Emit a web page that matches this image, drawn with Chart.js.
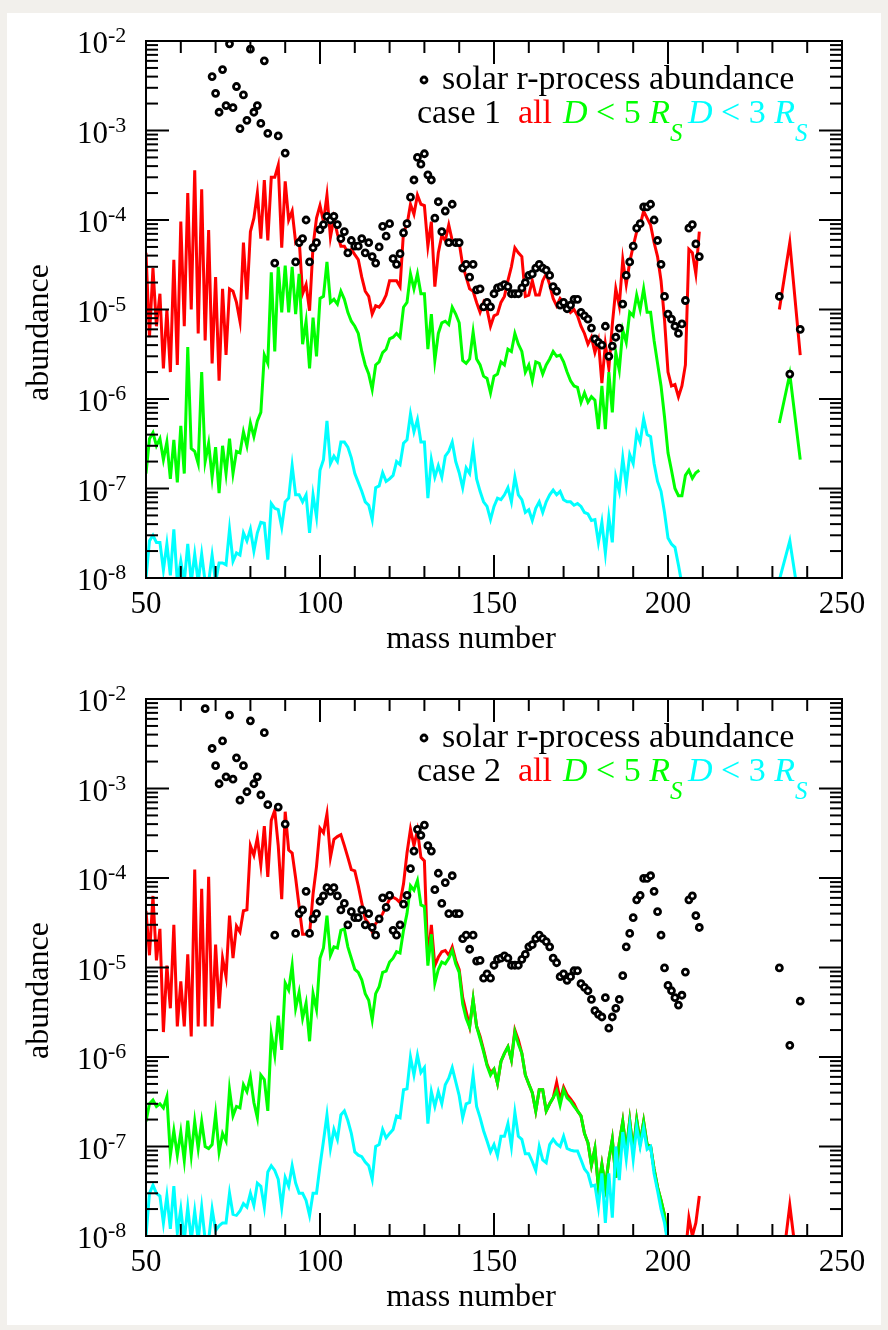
<!DOCTYPE html>
<html>
<head>
<meta charset="utf-8">
<script src="https://cdn.jsdelivr.net/npm/chart.js@4.4.1/dist/chart.umd.min.js"></script>
<style>
  body { margin: 0; width: 888px; height: 1330px; background: #f2f0ec; position: relative; overflow: hidden; }
  #card { position: absolute; left: 7px; top: 13px; width: 874px; height: 1312px; background: #ffffff; }
  .panel { position: absolute; left: 0; width: 888px; height: 658px; }
</style>
</head>
<body>
<div id="card"></div>
<div class="panel" style="top:0px"><canvas id="case1" width="888" height="658"></canvas></div>
<div class="panel" style="top:658px"><canvas id="case2" width="888" height="658"></canvas></div>
<script>
// mass numbers of the computed yields
const massNumbers = [
  50, 51, 52, 53, 54, 55, 56, 57, 58, 59,
  60, 61, 62, 63, 64, 65, 66, 67, 68, 69,
  70, 71, 72, 73, 74, 75, 76, 77, 78, 79,
  80, 81, 82, 83, 84, 85, 86, 87, 88, 89,
  90, 91, 92, 93, 94, 95, 96, 97, 98, 99,
  100, 101, 102, 103, 104, 105, 106, 107, 108, 109,
  110, 111, 112, 113, 114, 115, 116, 117, 118, 119,
  120, 121, 122, 123, 124, 125, 126, 127, 128, 129,
  130, 131, 132, 133, 134, 135, 136, 137, 138, 139,
  140, 141, 142, 143, 144, 145, 146, 147, 148, 149,
  150, 151, 152, 153, 154, 155, 156, 157, 158, 159,
  160, 161, 162, 163, 164, 165, 166, 167, 168, 169,
  170, 171, 172, 173, 174, 175, 176, 177, 178, 179,
  180, 181, 182, 183, 184, 185, 186, 187, 188, 189,
  190, 191, 192, 193, 194, 195, 196, 197, 198, 199,
  200, 201, 202, 203, 204, 205, 206, 207, 208, 209
];
const actinideMass = [232, 235, 238];

// solar r-process points
const solarMass = [
  67, 69, 70, 71, 72, 73, 74, 75, 76, 77, 78, 79, 80, 81, 82, 83, 84, 85,
  87, 88, 90, 93, 94, 95, 96, 97, 98, 99,
  100, 101, 102, 103, 104, 105, 106, 107, 108, 109,
  110, 111, 112, 113, 114, 115, 116, 117, 118, 119,
  120, 121, 122, 123, 124, 125, 126, 127, 128, 129,
  130, 131, 132, 133, 134, 135, 136, 137, 138, 139,
  140, 141, 142, 143, 144, 145, 146, 147, 148, 149,
  150, 151, 152, 153, 154, 155, 156, 157, 158, 159,
  160, 161, 162, 163, 164, 165, 166, 167, 168, 169,
  170, 171, 172, 173, 174, 175, 176, 177, 178, 179,
  180, 181, 182, 183, 184, 185, 186, 187, 188, 189,
  190, 191, 192, 193, 194, 195, 196, 197, 198, 199,
  200, 201, 202, 203, 204, 205, 206, 207, 208, 209,
  232, 235, 238
];
const solarCase1 = [
  1.2e-2, 4.0e-3, 2.6e-3, 1.6e-3, 4.8e-3, 1.9e-3, 9.3e-3, 1.8e-3, 3.1e-3, 1.05e-3, 2.5e-3, 1.3e-3, 8.1e-3, 1.6e-3, 1.9e-3, 1.2e-3, 6.0e-3, 9.3e-4,
  3.3e-5, 8.7e-4, 5.6e-4, 3.4e-5, 5.6e-5, 6.2e-5, 1.0e-4, 3.4e-5, 4.9e-5, 5.6e-5,
  7.8e-5, 8.9e-5, 1.1e-4, 1.0e-4, 1.1e-4, 8.9e-5, 6.2e-5, 7.4e-5, 4.3e-5, 5.9e-5,
  5.1e-5, 5.1e-5, 6.2e-5, 4.3e-5, 5.6e-5, 3.9e-5, 3.3e-5, 5.0e-5, 8.5e-5, 6.6e-5,
  9.1e-5, 3.7e-5, 3.2e-5, 4.2e-5, 7.2e-5, 9.1e-5, 1.8e-4, 2.8e-4, 5.0e-4, 4.2e-4,
  5.5e-4, 3.2e-4, 2.8e-4, 1.05e-4, 1.6e-4, 7.4e-5, 1.26e-4, 5.6e-5, 1.5e-4, 5.6e-5,
  5.6e-5, 2.9e-5, 3.2e-5, 2.3e-5, 3.2e-5, 1.66e-5, 1.7e-5, 1.07e-5, 1.2e-5, 1.07e-5,
  1.5e-5, 1.74e-5, 1.8e-5, 1.9e-5, 1.8e-5, 1.5e-5, 1.5e-5, 1.5e-5, 1.74e-5, 2.0e-5,
  2.4e-5, 2.5e-5, 2.9e-5, 3.2e-5, 2.9e-5, 2.75e-5, 2.4e-5, 1.8e-5, 1.6e-5, 1.12e-5,
  1.2e-5, 1.02e-5, 1.12e-5, 1.3e-5, 1.3e-5, 9.3e-6, 8.5e-6, 7.8e-6, 6.2e-6, 4.7e-6,
  4.3e-6, 4.0e-6, 6.5e-6, 3.0e-6, 3.9e-6, 4.9e-6, 6.2e-6, 1.15e-5, 2.4e-5, 3.4e-5,
  5.1e-5, 8.1e-5, 9.1e-5, 1.4e-4, 1.4e-4, 1.5e-4, 1.0e-4, 5.9e-5, 3.2e-5, 1.4e-5,
  8.9e-6, 7.8e-6, 6.5e-6, 5.4e-6, 6.9e-6, 1.26e-5, 8.1e-5, 8.9e-5, 5.4e-5, 3.9e-5,
  1.4e-5, 1.9e-6, 6.0e-6
];
const solarCase2 = [
  7.8e-3, 2.8e-3, 1.8e-3, 1.13e-3, 3.4e-3, 1.35e-3, 6.6e-3, 1.27e-3, 2.2e-3, 7.4e-4, 1.8e-3, 9.2e-4, 5.7e-3, 1.13e-3, 1.35e-3, 8.5e-4, 4.2e-3, 6.6e-4,
  2.3e-5, 6.2e-4, 4.0e-4, 2.4e-5, 4.0e-5, 4.4e-5, 7.1e-5, 2.4e-5, 3.5e-5, 4.0e-5,
  5.5e-5, 6.3e-5, 7.8e-5, 7.1e-5, 7.8e-5, 6.3e-5, 4.4e-5, 5.2e-5, 3.0e-5, 4.2e-5,
  3.6e-5, 3.6e-5, 4.4e-5, 3.0e-5, 4.0e-5, 2.8e-5, 2.3e-5, 3.5e-5, 6.0e-5, 4.7e-5,
  6.4e-5, 2.6e-5, 2.3e-5, 3.0e-5, 5.1e-5, 6.4e-5, 1.27e-4, 2.0e-4, 3.5e-4, 3.0e-4,
  3.9e-4, 2.3e-4, 2.0e-4, 7.4e-5, 1.13e-4, 5.2e-5, 8.9e-5, 4.0e-5, 1.06e-4, 4.0e-5,
  4.0e-5, 2.1e-5, 2.3e-5, 1.6e-5, 2.3e-5, 1.18e-5, 1.2e-5, 7.6e-6, 8.5e-6, 7.6e-6,
  1.06e-5, 1.23e-5, 1.27e-5, 1.35e-5, 1.27e-5, 1.06e-5, 1.06e-5, 1.06e-5, 1.23e-5, 1.4e-5,
  1.7e-5, 1.8e-5, 2.1e-5, 2.3e-5, 2.1e-5, 1.95e-5, 1.7e-5, 1.27e-5, 1.13e-5, 7.9e-6,
  8.5e-6, 7.2e-6, 7.9e-6, 9.2e-6, 9.2e-6, 6.6e-6, 6.0e-6, 5.5e-6, 4.4e-6, 3.3e-6,
  3.0e-6, 2.8e-6, 4.6e-6, 2.1e-6, 2.8e-6, 3.5e-6, 4.4e-6, 8.1e-6, 1.7e-5, 2.4e-5,
  3.6e-5, 5.7e-5, 6.4e-5, 9.9e-5, 9.9e-5, 1.06e-4, 7.1e-5, 4.2e-5, 2.3e-5, 9.9e-6,
  6.3e-6, 5.5e-6, 4.6e-6, 3.8e-6, 4.9e-6, 8.9e-6, 5.7e-5, 6.3e-5, 3.8e-5, 2.8e-5,
  9.9e-6, 1.35e-6, 4.2e-6
];

// case 1
const allCase1 = [
  4.3e-5, 4.9e-6, 2.9e-5, 6.5e-6, 1.5e-5, 2.2e-6, 1.0e-5, 2.0e-6, 3.6e-5, 2.4e-6,
  9.6e-5, 6.5e-6, 2.0e-4, 1.0e-5, 3.6e-4, 5.4e-6, 2.2e-4, 4.5e-6, 7.7e-5, 2.5e-6,
  2.3e-5, 1.6e-6, 1.7e-5, 3.1e-6, 1.7e-5, 1.6e-5, 1.2e-5, 7.4e-6, 5.6e-5, 1.3e-5,
  7.4e-5, 1.05e-4, 2.0e-4, 6.2e-5, 2.8e-4, 5.9e-5, 3.0e-4, 3.0e-4, 4.1e-4, 4.9e-5,
  2.7e-4, 1.0e-4, 1.26e-4, 5.6e-5, 6.2e-5, 1.5e-5, 1.9e-5, 9.7e-6, 5.1e-5, 1.05e-4,
  1.45e-4, 9.6e-5, 1.9e-4, 6.4e-5, 1.05e-4, 7.0e-5, 5.1e-5, 5.1e-5, 4.3e-5, 4.7e-5,
  4.1e-5, 3.6e-5, 2.3e-5, 1.6e-5, 1.4e-5, 8.9e-6, 1.1e-5, 1.06e-5, 1.2e-5, 1.45e-5,
  2.1e-5, 2.1e-5, 2.1e-5, 1.8e-5, 7.4e-5, 8.8e-5, 1.5e-4, 1.16e-4, 1.9e-4, 1.5e-4,
  1.45e-4, 5.1e-5, 9.6e-5, 1.8e-5, 4.3e-5, 6.7e-5, 5.9e-5, 8.8e-5, 5.9e-5, 5.6e-5,
  5.6e-5, 3.1e-5, 2.3e-5, 1.7e-5, 1.6e-5, 1.2e-5, 9.3e-6, 1.2e-5, 1.0e-5, 6.5e-6,
  8.5e-6, 8.9e-6, 1.2e-5, 1.4e-5, 2.1e-5, 3.0e-5, 4.9e-5, 4.3e-5, 3.9e-5, 1.4e-5,
  1.45e-5, 2.1e-5, 1.45e-5, 1.45e-5, 2.1e-5, 2.5e-5, 1.9e-5, 1.33e-5, 1.1e-5, 1.33e-5,
  1.2e-5, 1.1e-5, 9.3e-6, 1.0e-5, 8.5e-6, 6.5e-6, 5.4e-6, 4.1e-6, 4.9e-6, 3.3e-6,
  4.5e-6, 1.5e-6, 4.1e-6, 2.2e-6, 6.8e-6, 1.7e-5, 1.1e-5, 3.6e-5, 1.9e-5, 3.4e-5,
  5.1e-5, 7.4e-5, 8.8e-5, 1.26e-4, 1.05e-4, 8.8e-5, 5.6e-5, 3.9e-5, 2.1e-5, 7.7e-6,
  2.0e-6, 1.4e-6, 1.45e-6, 1.06e-6, 1.4e-6, 2.4e-6, 4.7e-5, 4.3e-5, 2.5e-5, 7.4e-5
];
const allCase1Act = [1.0e-5, 5.6e-5, 3.1e-6];
const d5Case1 = [
  1.47e-7, 3.6e-7, 4.2e-7, 3.0e-7, 3.6e-7, 2.1e-7, 3.3e-7, 1.28e-7, 3.5e-7, 1.17e-7,
  5.0e-7, 1.47e-7, 3.8e-6, 2.8e-7, 2.6e-7, 1.9e-7, 2.0e-6, 2.0e-7, 3.2e-7, 1.34e-7,
  2.9e-7, 8.9e-8, 3.0e-7, 1.47e-7, 3.6e-7, 1.47e-7, 2.6e-7, 2.5e-7, 4.3e-7, 3.0e-7,
  5.4e-7, 3.8e-7, 5.7e-7, 7.1e-7, 3.1e-6, 2.5e-6, 2.6e-5, 3.4e-6, 3.0e-5, 9.3e-6,
  3.1e-5, 9.3e-6, 3.0e-5, 8.9e-6, 2.5e-5, 4.1e-6, 7.4e-6, 2.2e-6, 8.1e-6, 3.0e-6,
  1.33e-5, 1.4e-5, 3.4e-5, 1.2e-5, 1.3e-5, 1.15e-5, 1.6e-5, 1.3e-5, 9.3e-6, 7.4e-6,
  6.5e-6, 5.4e-6, 3.4e-6, 2.4e-6, 1.9e-6, 1.28e-6, 2.4e-6, 2.6e-6, 3.3e-6, 3.6e-6,
  4.7e-6, 4.9e-6, 5.4e-6, 4.9e-6, 1.06e-5, 1.2e-5, 2.5e-5, 1.7e-5, 2.5e-5, 1.5e-5,
  1.5e-5, 3.6e-6, 8.9e-6, 2.7e-6, 5.4e-6, 7.1e-6, 7.4e-6, 6.8e-6, 1.06e-5, 8.9e-6,
  7.1e-6, 2.7e-6, 2.5e-6, 2.8e-6, 5.6e-6, 2.8e-6, 2.4e-6, 1.8e-6, 1.7e-6, 1.17e-6,
  1.8e-6, 1.9e-6, 2.6e-6, 2.4e-6, 3.6e-6, 3.4e-6, 5.4e-6, 4.1e-6, 3.4e-6, 2.0e-6,
  2.4e-6, 1.6e-6, 2.6e-6, 2.5e-6, 1.9e-6, 2.4e-6, 2.8e-6, 3.4e-6, 3.0e-6, 3.1e-6,
  2.6e-6, 2.0e-6, 1.6e-6, 1.4e-6, 1.35e-6, 9.2e-7, 1.17e-6, 9.2e-7, 1.06e-6, 9.7e-7,
  4.6e-7, 1.4e-6, 4.6e-7, 2.0e-6, 7.1e-7, 3.3e-6, 2.1e-6, 5.9e-6, 4.3e-6, 9.3e-6,
  8.5e-6, 1.45e-5, 1.0e-5, 1.7e-5, 9.3e-6, 9.3e-6, 4.5e-6, 2.5e-6, 1.4e-6, 6.3e-7,
  2.5e-7, 1.6e-7, 1.0e-7, 8.3e-8, 8.3e-8, 1.4e-7, 1.6e-7, 1.3e-7, 1.5e-7, 1.6e-7
];
const d5Case1Act = [5.4e-7, 1.9e-6, 2.1e-7];
const d3Case1 = [
  1.0e-8, 2.6e-8, 3.0e-8, 2.5e-8, 2.5e-8, 1.23e-8, 2.4e-8, 1.07e-8, 3.5e-8, 9e-9,
  1.54e-8, 9e-9, 2.4e-8, 9e-9, 1.85e-8, 9e-9, 1.85e-8, 9e-9, 9e-9, 1.8e-8,
  9e-9, 1.47e-8, 1.47e-8, 1.4e-8, 3.5e-8, 1.54e-8, 1.9e-8, 1.8e-8, 3.2e-8, 2.6e-8,
  3.5e-8, 2.0e-8, 3.2e-8, 4.2e-8, 4.1e-8, 1.6e-8, 6.8e-8, 6.0e-8, 5.8e-8, 3.7e-8,
  7.1e-8, 7.8e-8, 1.8e-7, 8.5e-8, 8.5e-8, 7.1e-8, 8.5e-8, 3.2e-8, 8.5e-8, 4.8e-8,
  1.6e-7, 2.1e-7, 5.7e-7, 1.9e-7, 2.3e-7, 2.0e-7, 3.3e-7, 3.3e-7, 2.9e-7, 2.2e-7,
  1.47e-7, 1.17e-7, 9.3e-8, 7.1e-8, 6.5e-8, 4.5e-8, 1.02e-7, 1.07e-7, 1.5e-7, 1.2e-7,
  1.28e-7, 1.4e-7, 2.0e-7, 1.85e-7, 3.2e-7, 3.5e-7, 6.8e-7, 4.3e-7, 5.9e-7, 3.3e-7,
  3.3e-7, 7.8e-8, 2.1e-7, 1.34e-7, 1.8e-7, 1.34e-7, 2.3e-7, 2.6e-7, 3.3e-7, 2.0e-7,
  1.5e-7, 1.02e-7, 1.7e-7, 1.47e-7, 2.8e-7, 1.28e-7, 9.3e-8, 7.1e-8, 6.3e-8, 4.5e-8,
  6.3e-8, 7.8e-8, 7.5e-8, 8.5e-8, 1.02e-7, 7.1e-8, 1.34e-7, 8.5e-8, 7.5e-8, 5.4e-8,
  5.8e-8, 4.4e-8, 6.0e-8, 7.1e-8, 5.4e-8, 7.1e-8, 8.5e-8, 9.6e-8, 8.5e-8, 9.3e-8,
  7.5e-8, 7.1e-8, 7.1e-8, 6.5e-8, 6.8e-8, 6.3e-8, 5.4e-8, 5.2e-8, 4.4e-8, 4.5e-8,
  2.5e-8, 4.2e-8, 1.9e-8, 4.8e-8, 2.5e-8, 1.34e-7, 9.3e-8, 2.2e-7, 1.1e-7, 2.4e-7,
  1.9e-7, 4.2e-7, 3.3e-7, 6.0e-7, 4.0e-7, 3.8e-7, 1.9e-7, 1.2e-7, 9.3e-8, 5.4e-8,
  2.8e-8, 2.4e-8, 2.2e-8, 1.4e-8, 8.5e-9, null, null, null, null, null
];
const d3Case1Act = [9.5e-9, 2.6e-8, 4.5e-9];

// case 2
const allCase2 = [
  4.3e-5, 1.37e-5, 6.3e-5, 1.2e-5, 2.7e-5, 1.9e-6, 1.05e-5, 3.5e-6, 3.0e-5, 2.2e-6,
  7.0e-6, 2.2e-6, 1.4e-5, 1.7e-6, 1.24e-4, 2.2e-6, 7.6e-5, 2.2e-6, 1.03e-4, 2.2e-6,
  1.8e-5, 3.5e-6, 1.27e-5, 7.9e-6, 3.8e-5, 1.27e-5, 2.9e-5, 2.5e-5, 4.3e-5, 4.4e-5,
  2.3e-4, 1.8e-4, 2.8e-4, 1.4e-4, 3.8e-4, 1.03e-4, 4.4e-4, 5.7e-4, 2.3e-4, 5.8e-5,
  5.5e-4, 2.05e-4, 1.9e-4, 1.0e-4, 4.8e-5, 2.35e-5, 2.35e-5, 2.35e-5, 6.6e-5, 1.35e-4,
  3.6e-4, 3.2e-4, 5.2e-4, 1.7e-4, 2.7e-4, 2.9e-4, 3.05e-4, 2.3e-4, 1.7e-4, 1.24e-4,
  1.2e-4, 8.2e-5, 5.3e-5, 3.5e-5, 3.1e-5, 2.5e-5, 3.1e-5, 3.4e-5, 4.0e-5, 4.8e-5,
  5.8e-5, 6.1e-5, 5.8e-5, 5.3e-5, 8.6e-5, 1.9e-4, 3.5e-4, 2.3e-4, 3.4e-4, 1.7e-4,
  1.55e-4, 1.2e-5, 3.0e-5, 1.05e-5, 1.3e-5, 1.5e-5, 1.55e-5, 1.37e-5, 1.7e-5, 1.2e-5,
  9.5e-6, 4.6e-6, 3.2e-6, 2.2e-6, 4.4e-6, 2.2e-6, 1.7e-6, 1.2e-6, 8.3e-7, 6.7e-7,
  7.3e-7, 5.1e-7, 8.9e-7, 1.1e-6, 1.3e-6, 9.3e-7, 2.0e-6, 1.55e-6, 1.1e-6, 6.3e-7,
  5.0e-7, 4.0e-7, 2.5e-7, 4.3e-7, 4.3e-7, 2.5e-7, 3.0e-7, 3.5e-7, 5.2e-7, 3.3e-7,
  4.6e-7, 3.8e-7, 3.4e-7, 3.0e-7, 2.5e-7, 2.2e-7, 1.4e-7, 1.1e-7, 6.2e-8, 9.5e-8,
  3.5e-8, 6.3e-8, 3.5e-8, 7.1e-8, 1.2e-7, 4.5e-8, 1.1e-7, 1.9e-7, 8.9e-8, 1.95e-7,
  8.9e-8, 2.0e-7, 1.1e-7, 1.9e-7, 1.05e-7, 1.0e-7, 5.6e-8, 3.5e-8, 2.5e-8, 1.7e-8,
  8e-9, null, null, null, null, 6.3e-9, 1.6e-8, 1.0e-8, 1.4e-8, 2.8e-8
];
const allCase2Act = [2.5e-9, 2.2e-8, 2.5e-9];
const d5Case2 = [
  1.9e-7, 3.0e-7, 3.3e-7, 2.8e-7, 3.0e-7, 2.7e-7, 3.6e-7, 8.0e-8, 1.5e-7, 8.0e-8,
  1.45e-7, 7.0e-8, 1.95e-7, 8.0e-8, 1.9e-7, 9.5e-8, 1.9e-7, 1.0e-7, 9.5e-8, 1.05e-7,
  2.3e-7, 8.7e-8, 1.4e-7, 1.15e-7, 4.3e-7, 2.2e-7, 2.8e-7, 2.7e-7, 4.9e-7, 4.1e-7,
  6.0e-7, 3.1e-7, 2.1e-7, 6.3e-7, 5.6e-7, 2.5e-7, 1.8e-6, 1.05e-6, 2.9e-6, 1.2e-6,
  6.7e-6, 5.6e-6, 1.05e-5, 3.5e-6, 5.3e-6, 2.7e-6, 4.0e-6, 1.5e-6, 5.1e-6, 3.4e-6,
  1.27e-5, 1.65e-5, 3.8e-5, 1.37e-5, 1.7e-5, 1.65e-5, 2.6e-5, 2.7e-5, 1.7e-5, 1.27e-5,
  9.5e-6, 8.8e-6, 7.3e-6, 5.1e-6, 4.3e-6, 2.6e-6, 5.1e-6, 6.1e-6, 8.8e-6, 9.1e-6,
  1.15e-5, 1.27e-5, 1.5e-5, 1.45e-5, 2.6e-5, 4.0e-5, 8.2e-5, 7.3e-5, 9.4e-5, 5.0e-5,
  4.8e-5, 1.05e-5, 2.35e-5, 6.7e-6, 9.5e-6, 1.15e-5, 1.1e-5, 1.27e-5, 1.55e-5, 1.1e-5,
  8.8e-6, 3.9e-6, 2.7e-6, 2.15e-6, 4.4e-6, 2.2e-6, 1.6e-6, 1.15e-6, 8.0e-7, 6.3e-7,
  7.3e-7, 5.1e-7, 8.9e-7, 1.1e-6, 1.3e-6, 9.3e-7, 1.9e-6, 1.4e-6, 1.1e-6, 6.3e-7,
  5.0e-7, 4.0e-7, 2.5e-7, 4.3e-7, 4.3e-7, 2.5e-7, 3.0e-7, 3.5e-7, 4.2e-7, 2.9e-7,
  4.3e-7, 3.5e-7, 3.2e-7, 2.8e-7, 2.5e-7, 2.2e-7, 1.4e-7, 1.1e-7, 6.2e-8, 9.5e-8,
  3.5e-8, 6.3e-8, 3.5e-8, 7.1e-8, 1.2e-7, 4.5e-8, 1.1e-7, 1.9e-7, 8.9e-8, 1.95e-7,
  8.9e-8, 2.0e-7, 1.1e-7, 1.9e-7, 1.05e-7, 1.0e-7, 5.6e-8, 3.5e-8, 2.5e-8, 1.7e-8,
  8e-9, null, null, null, null, null, null, null, null, null
];
const d3Case2 = [
  1.0e-8, 3.0e-8, 3.7e-8, 3.0e-8, 2.8e-8, 1.4e-8, 2.8e-8, 1.2e-8, 3.6e-8, 1.08e-8,
  2.0e-8, 9e-9, 2.1e-8, 9e-9, 1.9e-8, 9e-9, 2.1e-8, 9e-9, 9e-9, 2.0e-8,
  1.15e-8, 1.3e-8, 1.4e-8, 1.4e-8, 3.0e-8, 1.75e-8, 1.7e-8, 1.9e-8, 2.3e-8, 2.1e-8,
  3.0e-8, 2.2e-8, 3.9e-8, 3.6e-8, 2.1e-8, 5.2e-8, 6.1e-8, 5.4e-8, 4.3e-8, 2.1e-8,
  4.5e-8, 3.6e-8, 6.1e-8, 3.9e-8, 3.0e-8, 3.0e-8, 2.5e-8, 1.7e-8, 3.0e-8, 3.0e-8,
  6.1e-8, 1.15e-7, 2.25e-7, 9.5e-8, 1.55e-7, 1.2e-7, 2.25e-7, 2.5e-7, 1.95e-7, 1.4e-7,
  8.7e-8, 8.0e-8, 7.7e-8, 6.7e-8, 6.1e-8, 4.3e-8, 1.0e-7, 1.05e-7, 1.55e-7, 1.25e-7,
  1.4e-7, 1.55e-7, 2.2e-7, 2.1e-7, 4.3e-7, 4.4e-7, 1.0e-6, 6.3e-7, 1.05e-6, 6.7e-7,
  7.6e-7, 1.8e-7, 4.1e-7, 2.8e-7, 4.1e-7, 3.0e-7, 4.9e-7, 5.8e-7, 7.6e-7, 5.3e-7,
  3.7e-7, 2.1e-7, 3.0e-7, 3.1e-7, 6.3e-7, 2.8e-7, 2.1e-7, 1.5e-7, 1.15e-7, 8.7e-8,
  1.05e-7, 7.9e-8, 1.3e-7, 1.3e-7, 1.8e-7, 1.0e-7, 2.4e-7, 1.3e-7, 1.2e-7, 8.3e-8,
  8.3e-8, 6.8e-8, 5.4e-8, 1.0e-7, 7.1e-8, 6.6e-8, 1.05e-7, 1.2e-7, 1.07e-7, 1.0e-7,
  1.3e-7, 9.5e-8, 9.1e-8, 8.9e-8, 8.9e-8, 7.1e-8, 5.6e-8, 5.0e-8, 3.6e-8, 3.7e-8,
  2.1e-8, 5.0e-8, 1.4e-8, 5.0e-8, 1.6e-8, 1.0e-7, 4.2e-8, 1.45e-7, 7.2e-8, 1.65e-7,
  7.2e-8, 1.65e-7, 1.0e-7, 1.6e-7, 9.3e-8, 1.0e-7, 5.0e-8, 3.2e-8, 2.0e-8, 1.4e-8,
  8e-9, null, null, null, null, null, null, null, null, null
];

// axes
const xRange = [50, 250];
const yRange = [1e-8, 1e-2];
const xTickLabels = [50, 100, 150, 200, 250];
const yTickValues = [1e-8, 1e-7, 1e-6, 1e-5, 1e-4, 1e-3, 1e-2];
const yTickExponents = ["-8", "-7", "-6", "-5", "-4", "-3", "-2"];

const serif = "'Liberation Serif', 'Times New Roman', serif";
const RED = "#ff0000", GREEN = "#00ff00", CYAN = "#00ffff";

function toPoints(masses, values) {
  return masses.map((a, i) => ({ x: a, y: values[i] }));
}
function lineData(main, act) {
  const pts = toPoints(massNumbers, main);
  if (act) {
    pts.push({ x: 220, y: null }); // gap before the actinides
    pts.push(...toPoints(actinideMass, act));
  }
  return pts;
}

// frame, inside ticks, tick labels, titles and legend
const paperFrame = {
  id: "paperFrame",
  afterDraw(chart, args, opts) {
    const { ctx, chartArea: a, scales: { x, y } } = chart;
    ctx.save();
    ctx.strokeStyle = "#000";
    ctx.fillStyle = "#000";
    ctx.lineWidth = 2;
    ctx.strokeRect(a.left, a.top, a.right - a.left, a.bottom - a.top);

    const tick = (x1, y1, x2, y2) => { ctx.beginPath(); ctx.moveTo(x1, y1); ctx.lineTo(x2, y2); ctx.stroke(); };
    for (let v = xRange[0]; v <= xRange[1]; v += 10) {
      const px = x.getPixelForValue(v);
      const len = v % 50 === 0 ? 23 : 12;
      tick(px, a.bottom, px, a.bottom - len);
      tick(px, a.top, px, a.top + len);
    }
    yTickValues.forEach(dec => {
      for (let m = 1; m <= 9; m++) {
        const v = dec * m;
        if (v > yRange[1] * 1.0001) break;
        const py = y.getPixelForValue(v);
        const len = m === 1 ? 23 : 12;
        tick(a.left, py, a.left + len, py);
        tick(a.right, py, a.right - len, py);
      }
    });

    // tick labels
    ctx.textBaseline = "alphabetic";
    ctx.font = `31px ${serif}`;
    ctx.textAlign = "center";
    xTickLabels.forEach(v => ctx.fillText(String(v), x.getPixelForValue(v), a.bottom + 35));
    yTickValues.forEach((v, i) => {
      const py = y.getPixelForValue(v);
      ctx.font = `31px ${serif}`;
      ctx.textAlign = "right";
      ctx.fillText("10", a.left - 38, py + 12);
      ctx.font = `22px ${serif}`;
      ctx.textAlign = "left";
      ctx.fillText(yTickExponents[i], a.left - 38, py + 1);
    });

    // axis titles
    ctx.font = `32px ${serif}`;
    ctx.textAlign = "center";
    ctx.fillText("mass number", 471, a.bottom + 70);
    ctx.save();
    ctx.translate(48, (a.top + a.bottom) / 2 + 23);
    ctx.rotate(-Math.PI / 2);
    ctx.fillText("abundance", 0, 0);
    ctx.restore();

    // legend
    ctx.textAlign = "left";
    ctx.beginPath();
    ctx.arc(424, a.top + 39, 3, 0, Math.PI * 2);
    ctx.fillStyle = "#fff";
    ctx.fill();
    ctx.lineWidth = 2.8;
    ctx.stroke();
    ctx.fillStyle = "#000";
    ctx.font = `34px ${serif}`;
    ctx.fillText("solar r-process abundance", 442, a.top + 48);
    const base = a.top + 82;
    ctx.fillText(opts.caseLabel, 417, base);
    ctx.fillStyle = RED;
    ctx.fillText("all", 518, base);
    const radius = (color, n, x0) => {
      ctx.fillStyle = color;
      let cx = x0;
      ctx.font = `italic 34px ${serif}`;
      ctx.fillText("D", cx, base); cx += ctx.measureText("D").width;
      ctx.font = `34px ${serif}`;
      const mid = ` < ${n} `;
      ctx.fillText(mid, cx, base); cx += ctx.measureText(mid).width;
      ctx.font = `italic 34px ${serif}`;
      ctx.fillText("R", cx, base); cx += ctx.measureText("R").width;
      ctx.font = `italic 25px ${serif}`;
      ctx.fillText("S", cx, base + 18);
    };
    radius(GREEN, "5", 563);
    radius(CYAN, "3", 688);
    ctx.restore();
  }
};

function makePanel(id, caseLabel, solar, all, allAct, d5, d5Act, d3, d3Act) {
  const lineStyle = { borderWidth: 3, pointRadius: 0, tension: 0, fill: false };
  return new Chart(document.getElementById(id), {
    type: "line",
    data: {
      datasets: [
        {
          label: "solar r-process abundance",
          data: toPoints(solarMass, solar),
          showLine: false,
          pointStyle: "circle",
          pointRadius: 3,
          pointBorderWidth: 2.8,
          pointBorderColor: "#000",
          pointBackgroundColor: "#fff",
          borderColor: "#000",
          backgroundColor: "#fff"
        },
        Object.assign({ label: "D < 3 R_S", data: lineData(d3, d3Act), borderColor: CYAN }, lineStyle),
        Object.assign({ label: "D < 5 R_S", data: lineData(d5, d5Act), borderColor: GREEN }, lineStyle),
        Object.assign({ label: "all", data: lineData(all, allAct), borderColor: RED }, lineStyle)
      ]
    },
    options: {
      responsive: false,
      animation: false,
      layout: { padding: { left: 146, top: 41, right: 46, bottom: 80 } },
      plugins: {
        legend: { display: false },
        tooltip: { enabled: false },
        paperFrame: { caseLabel: caseLabel }
      },
      scales: {
        x: { type: "linear", min: xRange[0], max: xRange[1], display: false },
        y: { type: "logarithmic", min: yRange[0], max: yRange[1], display: false }
      }
    },
    plugins: [paperFrame]
  });
}

makePanel("case1", "case 1", solarCase1, allCase1, allCase1Act, d5Case1, d5Case1Act, d3Case1, d3Case1Act);
makePanel("case2", "case 2", solarCase2, allCase2, allCase2Act, d5Case2, null, d3Case2, null);
</script>
</body>
</html>
